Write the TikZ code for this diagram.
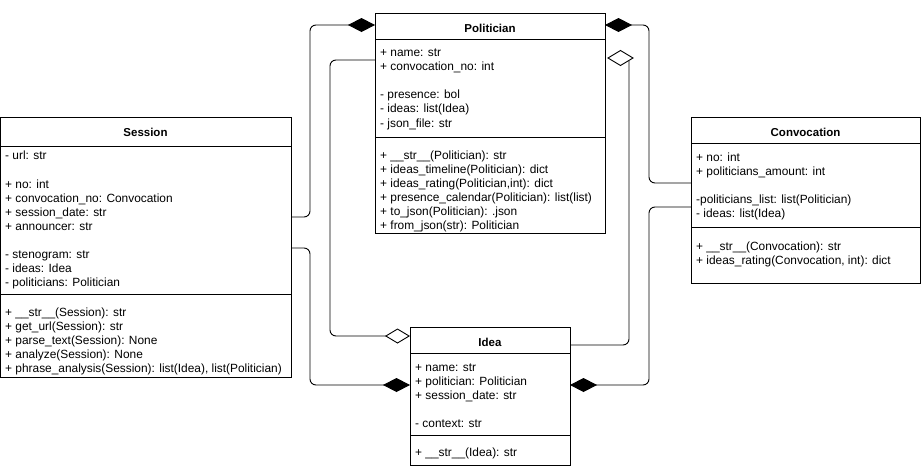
\documentclass[tikz,border=0pt]{standalone}
\usepackage{fontspec}
\setmainfont{Liberation Sans}
\usetikzlibrary{arrows.meta}
\begin{document}
\begin{tikzpicture}[x=1pt,y=-1pt,
  cls/.style={draw, line width=0.9pt, anchor=north west, inner sep=0pt, outer sep=0pt},
  sep/.style={line width=0.9pt},
  txt/.style={anchor=base west, inner sep=0pt, font=\fontsize{11.9}{14}\selectfont},
  ttl/.style={anchor=base, inner sep=0pt, font=\fontsize{11.5}{13}\selectfont\bfseries},
  conn/.style={line width=0.9pt, rounded corners=6pt},
  comp/.style={conn, -{Diamond[length=27pt,width=14pt]}},
  aggr/.style={conn, -{Diamond[open,length=25pt,width=15pt]}}
]
\useasboundingbox (0,0) rectangle (922,469);

% ---------- Session ----------
\node[cls, minimum width=290.5pt, minimum height=260pt] (ses) at (0.5,117) {};
\draw[sep] (ses.west |- 0,146) -- (ses.east |- 0,146);
\draw[sep] (ses.west |- 0,294) -- (ses.east |- 0,294);
\node[ttl] (sesT) at (145.5,136) {Session};
\node[txt] (s1) at (5,159) {- url: str};
\node[txt] (s2) at (5,188) {+ no: int};
\node[txt] (s3) at (5,202) {+ convocation\_no: Convocation};
\node[txt] (s4) at (5,216) {+ session\_date: str};
\node[txt] (s5) at (5,230) {+ announcer: str};
\node[txt] (s6) at (5,258) {- stenogram: str};
\node[txt] (s7) at (5,272) {- ideas: Idea};
\node[txt] (s8) at (5,286) {- politicians: Politician};
\node[txt] (s9) at (5,316) {+ \_\_str\_\_(Session): str};
\node[txt] (s10) at (5,330) {+ get\_url(Session): str};
\node[txt] (s11) at (5,344) {+ parse\_text(Session): None};
\node[txt] (s12) at (5,358) {+ analyze(Session): None};
\node[txt] (s13) at (5,372) {+ phrase\_analysis(Session): list(Idea), list(Politician)};

% ---------- Politician ----------
\node[cls, minimum width=230pt, minimum height=220pt] (pol) at (375,13) {};
\draw[sep] (pol.west |- 0,39) -- (pol.east |- 0,39);
\draw[sep] (pol.west |- 0,137) -- (pol.east |- 0,137);
\node[ttl] (polT) at (490,32) {Politician};
\node[txt] (p1) at (380,56) {+ name: str};
\node[txt] (p2) at (380,70.5) {+ convocation\_no: int};
\node[txt] (p3) at (380,98.5) {- presence: bol};
\node[txt] (p4) at (380,112.5) {- ideas: list(Idea)};
\node[txt] (p5) at (380,127) {- json\_file: str};
\node[txt] (p6) at (380,159) {+ \_\_str\_\_(Politician): str};
\node[txt] (p7) at (380,173) {+ ideas\_timeline(Politician): dict};
\node[txt] (p8) at (380,187) {+ ideas\_rating(Politician,int): dict};
\node[txt] (p9) at (380,201) {+ presence\_calendar(Politician): list(list)};
\node[txt] (p10) at (380,215) {+ to\_json(Politician): .json};
\node[txt] (p11) at (380,229) {+ from\_json(str): Politician};

% ---------- Idea ----------
\node[cls, minimum width=160pt, minimum height=138pt] (idea) at (410,327) {};
\draw[sep] (idea.west |- 0,353) -- (idea.east |- 0,353);
\draw[sep] (idea.west |- 0,435) -- (idea.east |- 0,435);
\node[ttl] (ideaT) at (490,346) {Idea};
\node[txt] (i1) at (415,371) {+ name: str};
\node[txt] (i2) at (415,385) {+ politician: Politician};
\node[txt] (i3) at (415,399) {+ session\_date: str};
\node[txt] (i4) at (415,427) {- context: str};
\node[txt] (i5) at (415,456) {+ \_\_str\_\_(Idea): str};

% ---------- Convocation ----------
\node[cls, minimum width=229pt, minimum height=166pt] (conv) at (691,117) {};
\draw[sep] (conv.west |- 0,143) -- (conv.east |- 0,143);
\draw[sep] (conv.west |- 0,227) -- (conv.east |- 0,227);
\node[ttl] (convT) at (805.5,136) {Convocation};
\node[txt] (c1) at (696,161) {+ no: int};
\node[txt] (c2) at (696,175) {+ politicians\_amount: int};
\node[txt] (c3) at (696,203) {-politicians\_list: list(Politician)};
\node[txt] (c4) at (696,217) {- ideas: list(Idea)};
\node[txt] (c5) at (696,250) {+ \_\_str\_\_(Convocation): str};
\node[txt] (c6) at (696,264) {+ ideas\_rating(Convocation, int): dict};

% ---------- Connectors ----------
\draw[comp] (ses.east |- 0,217) -- (310,217) -- (310,25) -- (pol.west |- 0,25);
\draw[comp] (ses.east |- 0,248) -- (310,248) -- (310,385) -- (idea.west |- 0,385);
\draw[aggr] (pol.west |- 0,60) -- (330,60) -- (330,336) -- (idea.west |- 0,336);
\coordinate (aggtop) at (629,61);
\draw[conn] (idea.east |- 0,345) -- (629,345) -- (aggtop);
\draw[line width=0.9pt, fill=white] (pol.east |- 0,58) ++(3,0) -- ++(12.5,-7.5) -- ++(12.5,7.5) -- ++(-12.5,7.5) -- cycle;
\draw[comp] (conv.west |- 0,183) -- (649,183) -- (649,25) -- (pol.east |- 0,25);
\draw[comp] (conv.west |- 0,207) -- (649,207) -- (649,385) -- (idea.east |- 0,385);
\end{tikzpicture}
\end{document}
